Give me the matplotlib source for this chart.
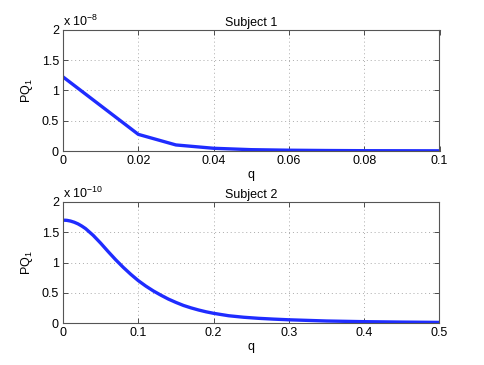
import matplotlib.pyplot as plt

# Subject 1 (values in units of 1e-8)
q1 = [0, 0.02, 0.03, 0.04, 0.05, 0.06, 0.07, 0.08, 0.09, 0.1]
pq1 = [1.225, 0.275, 0.10, 0.045, 0.022, 0.013, 0.008, 0.005, 0.004, 0.003]

# Subject 2 (values in units of 1e-10)
q2 = [0, 0.005, 0.01, 0.015, 0.02, 0.025, 0.03, 0.04, 0.05, 0.06, 0.07, 0.08, 0.09,
      0.10, 0.11, 0.12, 0.13, 0.14, 0.15, 0.16, 0.17, 0.18, 0.19,
      0.20, 0.22, 0.24, 0.26, 0.28, 0.30, 0.35, 0.40, 0.45, 0.50]
pq2 = [1.70, 1.697, 1.685, 1.665, 1.638, 1.602, 1.56, 1.45, 1.32, 1.18, 1.045, 0.92, 0.805,
       0.70, 0.61, 0.53, 0.46, 0.395, 0.34, 0.29, 0.25, 0.215, 0.185,
       0.16, 0.12, 0.095, 0.077, 0.064, 0.053, 0.033, 0.022, 0.015, 0.010]

plt.rcParams['font.family'] = ['Liberation Sans', 'DejaVu Sans']
plt.rcParams['font.size'] = 9
plt.rcParams['mathtext.fontset'] = 'custom'
plt.rcParams['mathtext.rm'] = 'Liberation Sans'
plt.rcParams['mathtext.it'] = 'Liberation Sans'
plt.rcParams['mathtext.default'] = 'regular'

W, H = 485, 365
fig = plt.figure(figsize=(W / 100, H / 100), dpi=100)
fig.set_facecolor('white')

panels = [
    (q1, pq1, [0, 0.02, 0.04, 0.06, 0.08, 0.1], ['0', '0.02', '0.04', '0.06', '0.08', '0.1'],
     'Subject 1', '-8', 151, 30),
    (q2, pq2, [0, 0.1, 0.2, 0.3, 0.4, 0.5], ['0', '0.1', '0.2', '0.3', '0.4', '0.5'],
     'Subject 2', '-10', 323, 202),
]

for q, pq, xt, xtl, title, expo, ybot, ytop in panels:
    ax = fig.add_axes([63 / W, 1 - ybot / H, 376.5 / W, (ybot - ytop) / H])
    ax.plot(q, pq, color='#1f2cff', linewidth=2.4, solid_joinstyle='round')
    ax.set_xlim(xt[0], xt[-1])
    ax.set_ylim(0, 2)
    ax.set_xticks(xt)
    ax.set_xticklabels(xtl)
    ax.set_yticks([0, 0.5, 1, 1.5, 2])
    ax.set_yticklabels(['0', '0.5', '1', '1.5', '2'])
    ax.tick_params(direction='in', length=3.5, width=0.6, color='#333333',
                   top=True, right=True, labelsize=9, pad=3)
    ax.grid(True, linestyle=(0, (1, 3)), color='#aaaaaa', linewidth=0.7)
    for s in ax.spines.values():
        s.set_color('#555555')
        s.set_linewidth(0.8)
    ax.set_title(title, fontsize=9, pad=3)
    ax.set_xlabel('q', fontsize=9, labelpad=1)
    ax.set_ylabel('PQ$_1$', fontsize=9, labelpad=5)
    ax.text(0, 1.01, 'x 10$^{%s}$' % expo, transform=ax.transAxes,
            fontsize=9, ha='left', va='bottom')

plt.savefig('out.png', dpi=100)
